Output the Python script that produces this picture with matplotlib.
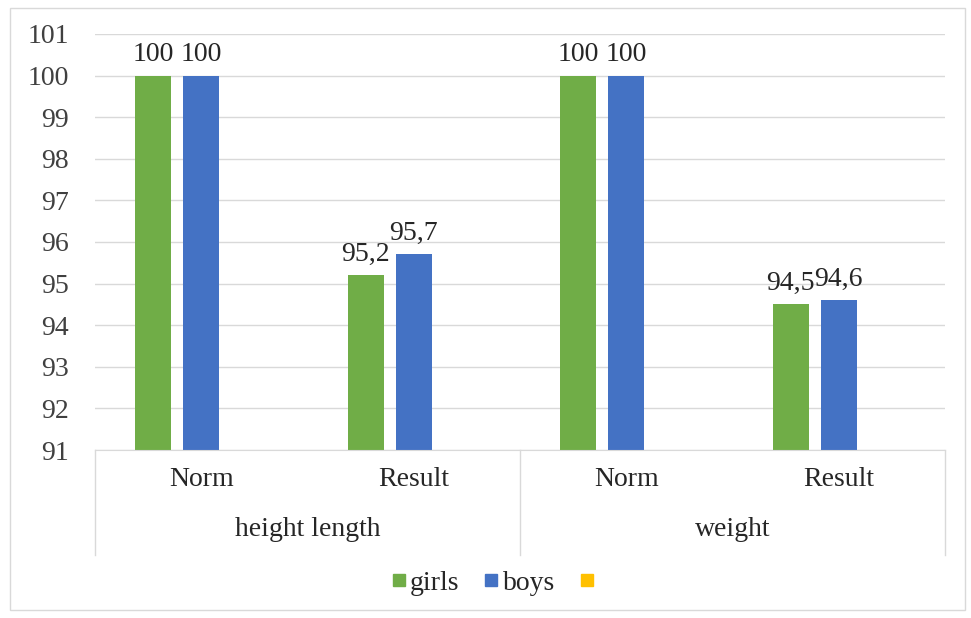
import matplotlib
matplotlib.use("Agg")
import matplotlib.pyplot as plt
from matplotlib.patches import Rectangle
from matplotlib.lines import Line2D
import numpy as np

plt.rcParams['font.family'] = ['Liberation Serif', 'DejaVu Serif']

groups = ["height length", "weight"]
subcats = ["Norm", "Result", "Norm", "Result"]
girls = [100, 95.2, 100, 94.5]
boys = [100, 95.7, 100, 94.6]
girls_lbl = ["100", "95,2", "100", "94,5"]
boys_lbl = ["100", "95,7", "100", "94,6"]
yticks = list(range(91, 102))

GREEN = "#70AD47"
BLUE = "#4472C4"
GOLD = "#FFC000"
GRID = "#D9D9D9"
TXT = "#262626"
FS = 20

fig = plt.figure(figsize=(9.71, 6.18), dpi=100)
W, H = 971, 618
ax = fig.add_axes([95 / W, 1 - 450 / H, 850 / W, (450 - 34) / H])

x = np.arange(len(subcats)) + 0.5
bw = 36 / 212.5
off = 48 / 212.5

ax.bar(x - off, [g - 91 for g in girls], bottom=91, width=bw, color=GREEN, zorder=3)
ax.bar(x, [b - 91 for b in boys], bottom=91, width=bw, color=BLUE, zorder=3)

for xi, v, t in zip(x - off, girls, girls_lbl):
    ax.annotate(t, (xi, v), xytext=(0, 6), textcoords="offset points",
                ha="center", va="bottom", fontsize=FS, color=TXT)
for xi, v, t in zip(x, boys, boys_lbl):
    ax.annotate(t, (xi, v), xytext=(0, 6), textcoords="offset points",
                ha="center", va="bottom", fontsize=FS, color=TXT)

ax.set_xlim(0, 4)
ax.set_ylim(91, 101)
ax.set_yticks(yticks)
ax.set_yticklabels([str(t) for t in yticks], fontsize=FS, color="#404040")
ax.tick_params(axis="y", length=0, pad=19)
ax.set_xticks([])
ax.yaxis.grid(True, color=GRID, linewidth=1, zorder=0)
for s in ["left", "right", "top"]:
    ax.spines[s].set_visible(False)
ax.spines["bottom"].set_color(GRID)
ax.spines["bottom"].set_zorder(4)

tr = ax.get_xaxis_transform()
axh = (450 - 34)
for xi, lab in zip(x, subcats):
    ax.text(xi, -(480 - 450) / axh, lab, transform=tr, ha="center", va="center", fontsize=FS, color=TXT)
for gi, lab in enumerate(groups):
    ax.text(gi * 2 + 1, -(530 - 450) / axh, lab, transform=tr, ha="center", va="center", fontsize=FS, color=TXT)
for xs in [0, 2, 4]:
    ax.add_line(Line2D([xs, xs], [0, -(555 - 450) / axh], transform=tr, color=GRID, linewidth=1, clip_on=False))

handles = [Line2D([], [], marker="s", linestyle="", color=c, markersize=9) for c in [GREEN, BLUE, GOLD]]
fig.legend(handles, ["girls", "boys", " "], loc="center", bbox_to_anchor=(497 / W, 1 - 583 / H),
           ncol=3, frameon=False, fontsize=FS, handletextpad=0.05, columnspacing=0.8, handlelength=0.7,
           labelcolor=TXT)

fig.patches.append(Rectangle((10 / W, 1 - 610 / H), 955 / W, 602 / H, transform=fig.transFigure,
                             fill=False, edgecolor=GRID, linewidth=1))

fig.savefig("out.png", dpi=100, facecolor="white")
